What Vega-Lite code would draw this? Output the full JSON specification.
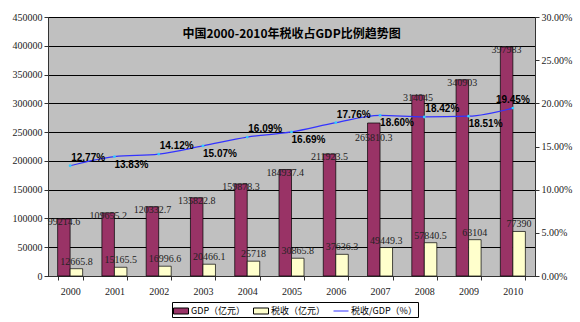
{
  "$schema": "https://vega.github.io/schema/vega-lite/v6.json",
  "width": 487,
  "height": 259,
  "autosize": {"type": "none"},
  "padding": {"left": 48, "top": 17, "right": 45, "bottom": 46},
  "background": "white",
  "title": {
    "text": "中国2000-2010年税收占GDP比例趋势图",
    "font": "Noto Sans CJK SC",
    "fontSize": 12,
    "fontWeight": "bold",
    "color": "black",
    "anchor": "middle",
    "orient": "top",
    "baseline": "middle",
    "offset": -16,
    "dy": 18
  },
  "datasets": {
    "bars": [
      {"Year": 2000, "series": "GDP（亿元）", "value": 99214.6},
      {"Year": 2001, "series": "GDP（亿元）", "value": 109655.2},
      {"Year": 2002, "series": "GDP（亿元）", "value": 120332.7},
      {"Year": 2003, "series": "GDP（亿元）", "value": 135822.8},
      {"Year": 2004, "series": "GDP（亿元）", "value": 159878.3},
      {"Year": 2005, "series": "GDP（亿元）", "value": 184937.4},
      {"Year": 2006, "series": "GDP（亿元）", "value": 211923.5},
      {"Year": 2007, "series": "GDP（亿元）", "value": 265810.3},
      {"Year": 2008, "series": "GDP（亿元）", "value": 314045},
      {"Year": 2009, "series": "GDP（亿元）", "value": 340903},
      {"Year": 2010, "series": "GDP（亿元）", "value": 397983},
      {"Year": 2000, "series": "税收（亿元）", "value": 12665.8},
      {"Year": 2001, "series": "税收（亿元）", "value": 15165.5},
      {"Year": 2002, "series": "税收（亿元）", "value": 16996.6},
      {"Year": 2003, "series": "税收（亿元）", "value": 20466.1},
      {"Year": 2004, "series": "税收（亿元）", "value": 25718},
      {"Year": 2005, "series": "税收（亿元）", "value": 30865.8},
      {"Year": 2006, "series": "税收（亿元）", "value": 37636.3},
      {"Year": 2007, "series": "税收（亿元）", "value": 49449.3},
      {"Year": 2008, "series": "税收（亿元）", "value": 57840.5},
      {"Year": 2009, "series": "税收（亿元）", "value": 63104},
      {"Year": 2010, "series": "税收（亿元）", "value": 77390}
    ],
    "ratio": [
      {"Year": 2000, "ratio": 0.1277},
      {"Year": 2001, "ratio": 0.1383},
      {"Year": 2002, "ratio": 0.1412},
      {"Year": 2003, "ratio": 0.1507},
      {"Year": 2004, "ratio": 0.1609},
      {"Year": 2005, "ratio": 0.1669},
      {"Year": 2006, "ratio": 0.1776},
      {"Year": 2007, "ratio": 0.1860},
      {"Year": 2008, "ratio": 0.1842},
      {"Year": 2009, "ratio": 0.1851},
      {"Year": 2010, "ratio": 0.1945}
    ]
  },
  "encoding": {
    "x": {
      "field": "Year",
      "type": "ordinal",
      "scale": {"paddingInner": 0.435, "paddingOuter": 0.2175},
      "axis": {
        "title": null,
        "labelAngle": 0,
        "labelFont": "Liberation Serif",
        "labelFontSize": 10,
        "labelColor": "#222",
        "labelPadding": 6,
        "tickBand": "extent",
        "tickSize": 4,
        "tickColor": "#333",
        "domainColor": "#333",
        "grid": false
      }
    }
  },
  "layer": [
    {
      "data": {"name": "bars"},
      "encoding": {
        "xOffset": {"field": "series", "type": "nominal", "scale": {"domain": ["GDP（亿元）", "税收（亿元）"], "paddingInner": 0, "paddingOuter": 0}},
        "y": {
          "field": "value",
          "type": "quantitative",
          "scale": {"domain": [0, 450000], "nice": false},
          "axis": {
            "title": null,
            "values": [0, 50000, 100000, 150000, 200000, 250000, 300000, 350000, 400000, 450000],
            "format": "d",
            "grid": true,
            "gridColor": "black",
            "gridWidth": 1,
            "labelFont": "Liberation Serif",
            "labelFontSize": 10,
            "labelColor": "#222",
            "labelPadding": 2,
            "tickSize": 4,
            "tickColor": "#333",
            "domainColor": "#333"
          }
        }
      },
      "layer": [
        {
          "mark": {"type": "bar", "stroke": "black", "strokeWidth": 0.7},
          "encoding": {
            "color": {
              "field": "series",
              "type": "nominal",
              "scale": {"domain": ["GDP（亿元）", "税收（亿元）", "税收/GDP（%）"], "range": ["#993366", "#FFFFCC", "#3333FF"]},
              "legend": {
                "title": null,
                "orient": "none",
                "legendX": 124,
                "legendY": 285,
                "direction": "horizontal",
                "symbolType": "M-1,-0.4H1V0.4H-1Z",
                "symbolSize": 225,
                "symbolStrokeColor": "black",
                "symbolStrokeWidth": 0.7,
                "labelFont": "Noto Sans CJK SC",
                "labelFontSize": 9,
                "labelColor": "black",
                "labelOffset": 2,
                "columnPadding": 5,
                "strokeColor": "black",
                "fillColor": "white",
                "padding": 1,
                "encode": {
                  "symbols": {
                    "update": {
                      "shape": {"signal": "datum.value === '税收/GDP（%）' ? 'stroke' : 'M-1,-0.4H1V0.4H-1Z'"},
                      "stroke": {"signal": "datum.value === '税收/GDP（%）' ? '#3333FF' : 'black'"},
                      "strokeWidth": {"value": 1}
                    }
                  }
                }
              }
            }
          }
        },
        {
          "transform": [{"filter": "datum.series === 'GDP（亿元）' && datum.Year !== 2007"}],
          "mark": {"type": "text", "font": "Liberation Serif", "fontSize": 10, "color": "#222", "baseline": "middle", "dy": 3},
          "encoding": {"text": {"field": "value", "type": "nominal"}}
        },
        {
          "transform": [{"filter": "datum.series === 'GDP（亿元）' && datum.Year === 2007"}],
          "mark": {"type": "text", "font": "Liberation Serif", "fontSize": 10, "color": "#222", "baseline": "middle", "dy": 15},
          "encoding": {"text": {"field": "value", "type": "nominal"}}
        },
        {
          "transform": [{"filter": "datum.series === '税收（亿元）'"}],
          "mark": {"type": "text", "font": "Liberation Serif", "fontSize": 10, "color": "#222", "baseline": "middle", "dy": -7},
          "encoding": {"text": {"field": "value", "type": "nominal"}}
        }
      ]
    },
    {
      "data": {"name": "ratio"},
      "encoding": {
        "y": {
          "field": "ratio",
          "type": "quantitative",
          "scale": {"domain": [0, 0.3], "nice": false},
          "axis": {
            "orient": "right",
            "title": null,
            "values": [0, 0.05, 0.1, 0.15, 0.2, 0.25, 0.3],
            "format": ".2%",
            "grid": false,
            "labelFont": "Liberation Serif",
            "labelFontSize": 10,
            "labelColor": "#222",
            "labelPadding": 2,
            "tickSize": 4,
            "tickColor": "#333",
            "domainColor": "#333"
          }
        }
      },
      "layer": [
        {"mark": {"type": "line", "color": "#3333FF", "strokeWidth": 1.2, "interpolate": "monotone"}, "encoding": {}},
        {"mark": {"type": "point", "filled": true, "color": "#33CCFF", "size": 8, "opacity": 1}, "encoding": {}},
        {
          "transform": [{"filter": "datum.Year % 2 === 0 && datum.Year !== 2010"}],
          "mark": {"type": "text", "font": "Liberation Sans", "fontSize": 10, "fontWeight": "bold", "color": "black", "baseline": "middle", "dx": 18, "dy": -8},
          "encoding": {"text": {"field": "ratio", "type": "quantitative", "format": ".2%"}}
        },
        {
          "transform": [{"filter": "datum.Year % 2 === 1"}],
          "mark": {"type": "text", "font": "Liberation Sans", "fontSize": 10, "fontWeight": "bold", "color": "black", "baseline": "middle", "dx": 17, "dy": 8},
          "encoding": {"text": {"field": "ratio", "type": "quantitative", "format": ".2%"}}
        },
        {
          "transform": [{"filter": "datum.Year === 2010"}],
          "mark": {"type": "text", "font": "Liberation Sans", "fontSize": 10, "fontWeight": "bold", "color": "black", "baseline": "middle", "dx": 0, "dy": -8},
          "encoding": {"text": {"field": "ratio", "type": "quantitative", "format": ".2%"}}
        }
      ]
    }
  ],
  "resolve": {"scale": {"y": "independent"}},
  "config": {
    "view": {"stroke": "#404040", "fill": "#C0C0C0"}
  }
}
